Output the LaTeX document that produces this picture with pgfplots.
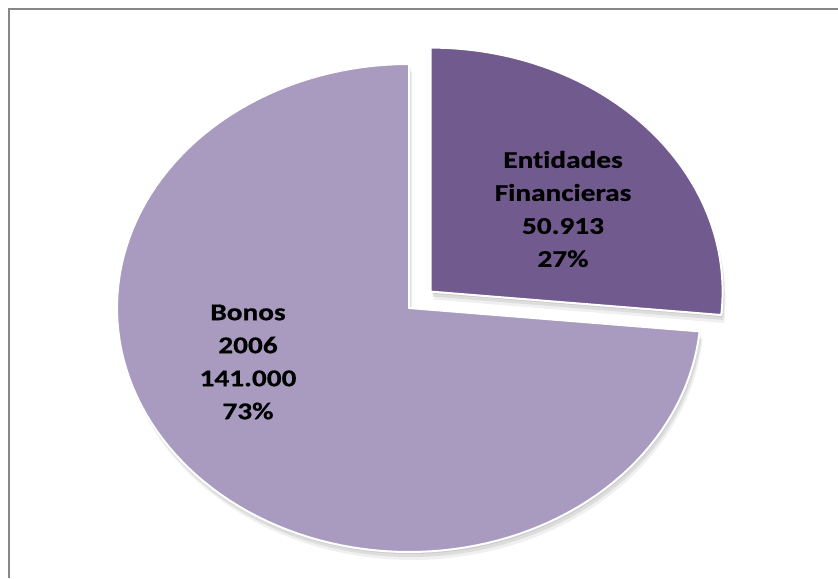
\documentclass[border=0pt]{standalone}
\usepackage{pgfplots}
\pgfplotsset{compat=1.18}
\usepackage{pgfplotstable}
\usepackage{fontspec}
\setmainfont{Carlito}
\newfontfamily\lbl[FakeStretch=1.22,Ligatures=NoCommon,BoldFeatures={FakeBold=0.7}]{Carlito}

% valores en miles
\pgfplotstableread{
nombre valor
Bonos 141.000
Entidades 50.913
}\datos

\definecolor{bonos}{HTML}{A89BBF}
\definecolor{entid}{HTML}{715A8E}
\definecolor{marco}{HTML}{878787}

% slice: cx, cy, start, end, style
\newcommand\slice[5]{%
  \addplot[#5,domain=#3:#4,samples=120,variable=\t]
    ({#1+292*cos(\t)},{#2+244*sin(\t)}) -- (#1,#2) -- cycle;}

\begin{document}
\begin{tikzpicture}
\pgfplotstablegetelem{0}{valor}\of\datos \let\va\pgfplotsretval
\pgfplotstablegetelem{1}{valor}\of\datos \let\vb\pgfplotsretval
\pgfmathsetmacro\angB{\vb/(\va+\vb)*360}
\pgfmathsetmacro\angS{90-\angB}
\pgfmathsetmacro\angE{360+\angS}
\pgfmathsetmacro\angM{90-\angB/2}
\pgfmathsetmacro\ex{409+0.1*292*cos(\angM)}
\pgfmathsetmacro\ey{270+0.1*244*sin(\angM)}
\begin{axis}[name=ax,scale only axis,width=628.5pt,height=433.5pt,
  xmin=0,xmax=838,ymin=0,ymax=578,hide axis,clip=false]
  % sombras
  \slice{410}{268}{90}{\angE}{fill=black,opacity=0.08,draw=none}
  \slice{411}{265}{90}{\angE}{fill=black,opacity=0.08,draw=none}
  \slice{412}{262}{90}{\angE}{fill=black,opacity=0.06,draw=none}
  \slice{\ex+1}{\ey-2}{\angS}{90}{fill=black,opacity=0.08,draw=none}
  \slice{\ex+2}{\ey-5}{\angS}{90}{fill=black,opacity=0.08,draw=none}
  \slice{\ex+3}{\ey-8}{\angS}{90}{fill=black,opacity=0.06,draw=none}
  % sectores
  \slice{409}{270}{90}{\angE}{fill=bonos,draw=white,line width=1.5pt,line join=round}
  \slice{\ex}{\ey}{\angS}{90}{fill=entid,draw=white,line width=1.5pt,line join=round}
  % etiquetas
  \node[align=center,font=\lbl\bfseries\fontsize{18}{24.75}\selectfont]
    at (563,369) {Entidades\\Financieras\\50.913\\27\%};
  \node[align=center,font=\lbl\bfseries\fontsize{18}{24.75}\selectfont]
    at (248,216) {Bonos\\2006\\141.000\\73\%};
  % marco
  \draw[marco,line width=1.9pt] (9,0) -- (9,569) -- (838,569);
\end{axis}
\pgfresetboundingbox
\path[use as bounding box] (ax.south west) rectangle (ax.north east);
\end{tikzpicture}
\end{document}
